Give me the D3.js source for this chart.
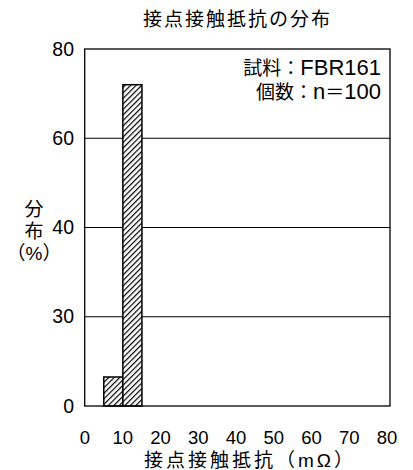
<!DOCTYPE html>
<html><head><meta charset="utf-8">
<script src="https://cdn.jsdelivr.net/npm/d3@7"></script>
<style>
body{margin:0;background:#fff;}
text{font-family:"Liberation Sans","Noto Sans CJK JP",sans-serif;fill:#000;}
</style></head>
<body><svg id="c" width="413" height="470"></svg>
<script>
const title = "接点接触抵抗の分布";
const xTitle = "接点接触抵抗（mΩ）";
const yTitleLines = ["分", "布", "（%）"];
const noteLines = [["試料：", "FBR161"], ["個数：", "n", "＝", "100"]];
const binStart = [5, 10];
const binEnd = [10, 15];
const values = [6.5, 72];
const yTickValues = [0, 20, 40, 60, 80];
const yTickLabels = ["0", "30", "40", "60", "80"];
const xTickValues = [0, 10, 20, 30, 40, 50, 60, 70, 80];

const svg = d3.select("#c");
const L = 84.7, R = 390, T = 49, B = 406;
const x = d3.scaleLinear().domain([0, 80]).range([L, R]);
const xLab = d3.scaleLinear().domain([0, 80]).range([85, 387]);
const y = d3.scaleLinear().domain([0, 80]).range([B, T]);

const defs = svg.append("defs");
const hp = 3.9;
const pat = defs.append("pattern").attr("id", "hatch").attr("patternUnits", "userSpaceOnUse")
  .attr("width", hp).attr("height", hp).attr("patternTransform", "rotate(45)");
pat.append("rect").attr("width", hp).attr("height", hp).attr("fill", "#fff");
pat.append("line").attr("x1", 0.6).attr("y1", 0).attr("x2", 0.6).attr("y2", hp)
  .attr("stroke", "#000").attr("stroke-width", 1.2);

// gridlines
svg.append("g").selectAll("line").data(yTickValues.filter(v => v > 0 && v < 80)).join("line")
  .attr("x1", L).attr("x2", R).attr("y1", d => y(d)).attr("y2", d => y(d))
  .attr("stroke", "#000").attr("stroke-width", 1);

// bars
svg.append("g").selectAll("rect").data(values).join("rect")
  .attr("x", (d, i) => x(binStart[i])).attr("width", (d, i) => x(binEnd[i]) - x(binStart[i]))
  .attr("y", d => y(d)).attr("height", d => B - y(d))
  .attr("fill", "url(#hatch)").attr("stroke", "#000").attr("stroke-width", 1.5);

// frame
svg.append("rect").attr("x", L).attr("y", T).attr("width", R - L).attr("height", B - T)
  .attr("fill", "none").attr("stroke", "#000").attr("stroke-width", 1.3);

// y tick labels
svg.append("g").selectAll("text").data(yTickValues).join("text")
  .attr("x", 74).attr("y", d => y(d)).attr("dy", "0.34em").attr("text-anchor", "end")
  .attr("font-size", 19.5).text((d, i) => yTickLabels[i]);

// x tick labels
svg.append("g").selectAll("text").data(xTickValues).join("text")
  .attr("x", d => xLab(d)).attr("y", 443.5).attr("text-anchor", "middle")
  .attr("font-size", 18.5).text(d => d);

// titles
svg.append("text").attr("x", 143).attr("y", 26).attr("text-anchor", "start")
  .attr("font-size", 19).attr("letter-spacing", "2px").text(title);
svg.append("text").attr("x", 144).attr("y", 467).attr("text-anchor", "start")
  .attr("font-size", 19).attr("letter-spacing", "3px").text(xTitle);
svg.append("g").selectAll("text").data(yTitleLines).join("text")
  .attr("x", 34).attr("y", (d, i) => 216 + i * 22).attr("text-anchor", "middle")
  .attr("font-size", 19).text(d => d);

// note
const note = svg.append("g").selectAll("text").data(noteLines).join("text")
  .attr("x", 381).attr("y", (d, i) => 75 + i * 23.5).attr("text-anchor", "end");
note.selectAll("tspan").data(d => d).join("tspan")
  .attr("font-size", d => /[A-Za-z0-9]/.test(d) ? 22 : 19)
  .text(d => d);
</script></body></html>
